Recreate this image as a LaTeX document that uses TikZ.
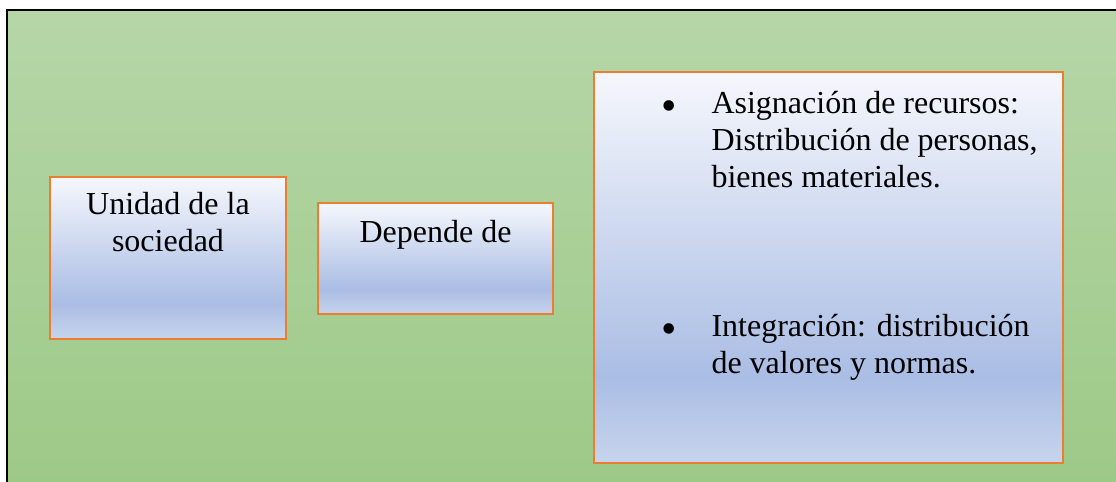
\documentclass[tikz,border=0pt]{standalone}
\usepackage{fontspec}
\setmainfont{Liberation Serif}
\usetikzlibrary{positioning}

\definecolor{bgtop}{HTML}{B6D6A8}
\definecolor{bgbottom}{HTML}{9DC987}
\definecolor{boxtop}{HTML}{F5F7FC}
\definecolor{boxmid}{HTML}{AABDE4}
\definecolor{boxbottom}{HTML}{C7D4EC}
\definecolor{boxline}{HTML}{ED7D31}

\pgfdeclareverticalshading{boxshade}{100bp}{color(0bp)=(boxbottom); color(25bp)=(boxbottom); color(36bp)=(boxmid); color(75bp)=(boxtop); color(100bp)=(boxtop)}

\begin{document}
\begin{tikzpicture}[x=0.5pt,y=-0.5pt,
    box/.style={draw=boxline, line width=0.9pt, shading=boxshade, inner sep=0pt},
    txt/.style={font=\fontsize{16}{18.3}\selectfont, inner sep=0pt},
    dot/.style={font=\fontsize{22}{22}\selectfont, inner sep=0pt}]
    \useasboundingbox (0,0) rectangle (1116,482);

    % Background
    \shade[top color=bgtop, bottom color=bgbottom] (7,10) rectangle (1120,486);
    \draw[line width=1.2pt] (7,490) -- (7,10) -- (1120,10);

    % Boxes
    \node[box, minimum width=118pt, minimum height=81pt] (unidad) at (168,258) {};
    \node[box, minimum width=117.5pt, minimum height=55.5pt] (depende) at (435.5,258.5) {};
    \node[box, minimum width=234.5pt, minimum height=195.5pt] (funciones) at (828.5,267.5) {};

    % Labels (base = last line)
    \node[txt, anchor=base, align=center] (unidadtxt) at ([yshift=-37.5pt]unidad.north) {Unidad de la\\sociedad};
    \node[txt, anchor=base] (dependetxt) at ([yshift=-20pt]depende.north) {Depende de};
    \node[dot, anchor=base] (bulletA) at ([xshift=38pt,yshift=-24.5pt]funciones.north west) {\textbullet};
    \node[txt, anchor=base west, align=left] (asignacion) at ([xshift=59pt,yshift=-58pt]funciones.north west) {Asignación de recursos:\\Distribución de personas,\\bienes materiales.};
    \node[dot, anchor=base] (bulletB) at ([xshift=38pt,yshift=-136pt]funciones.north west) {\textbullet};
    \node[txt, anchor=base west, align=left] (integracion) at ([xshift=59pt,yshift=-151pt]funciones.north west) {Integración: distribución\\de valores y normas.};
\end{tikzpicture}
\end{document}
